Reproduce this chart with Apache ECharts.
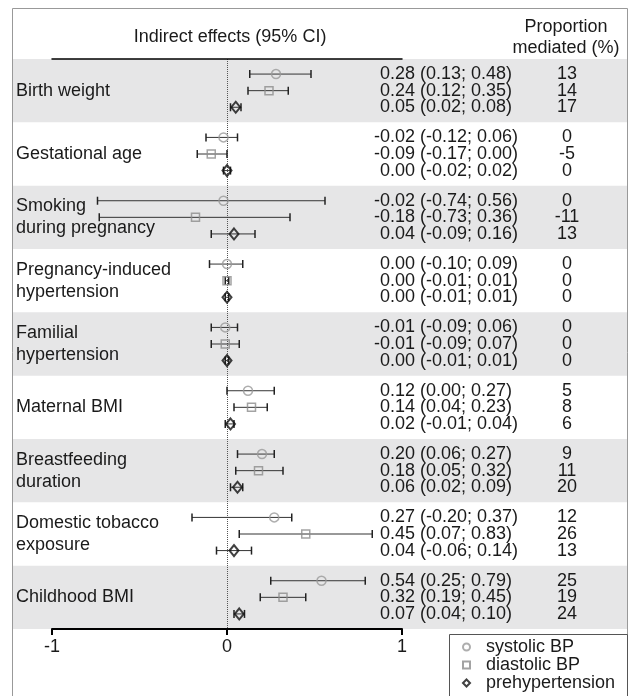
<!DOCTYPE html>
<html>
<head>
<meta charset="utf-8">
<script src="https://cdn.jsdelivr.net/npm/echarts@6/dist/echarts.min.js"></script>
<style>
  html, body { margin: 0; padding: 0; background: #fff; }
  #chart { width: 629px; height: 696px; }
</style>
</head>
<body>
<div id="chart"></div>
<script>
const categories = [
    "Birth weight",
    "Gestational age",
    "Smoking\nduring pregnancy",
    "Pregnancy-induced\nhypertension",
    "Familial\nhypertension",
    "Maternal BMI",
    "Breastfeeding\nduration",
    "Domestic tobacco\nexposure",
    "Childhood BMI",
];
const seriesNames = ["systolic BP", "diastolic BP", "prehypertension"];
const xTicks = [-1, 0, 1];

// systolic BP
const sbpEst = [0.28, -0.02, -0.02, 0.0, -0.01, 0.12, 0.2, 0.27, 0.54];
const sbpLow = [0.13, -0.12, -0.74, -0.1, -0.09, 0.0, 0.06, -0.2, 0.25];
const sbpHigh = [0.48, 0.06, 0.56, 0.09, 0.06, 0.27, 0.27, 0.37, 0.79];
const sbpProp = [13, 0, 0, 0, 0, 5, 9, 12, 25];

// diastolic BP
const dbpEst = [0.24, -0.09, -0.18, 0.0, -0.01, 0.14, 0.18, 0.45, 0.32];
const dbpLow = [0.12, -0.17, -0.73, -0.01, -0.09, 0.04, 0.05, 0.07, 0.19];
const dbpHigh = [0.35, 0.0, 0.36, 0.01, 0.07, 0.23, 0.32, 0.83, 0.45];
const dbpProp = [14, -5, -11, 0, 0, 8, 11, 26, 19];

// prehypertension
const phtEst = [0.05, 0.0, 0.04, 0.0, 0.0, 0.02, 0.06, 0.04, 0.07];
const phtLow = [0.02, -0.02, -0.09, -0.01, -0.01, -0.01, 0.02, -0.06, 0.04];
const phtHigh = [0.08, 0.02, 0.16, 0.01, 0.01, 0.04, 0.09, 0.14, 0.1];
const phtProp = [17, 0, 13, 0, 0, 6, 20, 13, 24];

const FONT = "'Liberation Sans', Arial, Helvetica, sans-serif";
const TEXT_COLOR = "#1a1a1a";
const BAND_COLOR = "#e6e6e7";
const subOffsets = [-0.262, 0, 0.262];

const groups = [
    { name: seriesNames[0], est: sbpEst, low: sbpLow, high: sbpHigh, prop: sbpProp },
    { name: seriesNames[1], est: dbpEst, low: dbpLow, high: dbpHigh, prop: dbpProp },
    { name: seriesNames[2], est: phtEst, low: phtLow, high: phtHigh, prop: phtProp },
];

const rowY = (i, j) => i + 0.5 + subOffsets[j];
const fmt = (v) => v.toFixed(2);

const chart = echarts.init(document.getElementById("chart"), null, { renderer: "canvas" });

const bandSeries = {
    type: "custom",
    z: 1,
    silent: true,
    encode: { x: 0, y: 1 },
    data: categories.map((c, i) => [0, i]).filter((d) => d[1] % 2 === 0),
    renderItem: (params, api) => {
        const i = api.value(1);
        const top = api.coord([0, i])[1];
        const bottom = api.coord([0, i + 1])[1];
        return {
            type: "rect",
            shape: { x: 13, y: top, width: 614, height: bottom - top },
            style: { fill: BAND_COLOR },
        };
    },
};

const errorBarSeries = groups.map((g, j) => ({
    type: "custom",
    name: g.name + " CI",
    z: 3,
    silent: true,
    encode: { x: [0, 1], y: 2 },
    data: g.est.map((v, i) => [g.low[i], g.high[i], rowY(i, j)]),
    renderItem: (params, api) => {
        const p1 = api.coord([api.value(0), api.value(2)]);
        const p2 = api.coord([api.value(1), api.value(2)]);
        const cap = 4;
        const stroke = { stroke: "#333", lineWidth: 1 };
        const capStroke = { stroke: "#222", lineWidth: 1.5 };
        return {
            type: "group",
            children: [
                { type: "line", shape: { x1: p1[0], y1: p1[1], x2: p2[0], y2: p2[1] }, style: stroke },
                { type: "line", shape: { x1: p1[0], y1: p1[1] - cap, x2: p1[0], y2: p1[1] + cap }, style: capStroke },
                { type: "line", shape: { x1: p2[0], y1: p2[1] - cap, x2: p2[0], y2: p2[1] + cap }, style: capStroke },
            ],
        };
    },
}));

const markerStyles = [
    { symbol: "circle", symbolSize: 9, itemStyle: { color: "transparent", borderColor: "#9a9a9a", borderWidth: 1.5 } },
    { symbol: "rect", symbolSize: 8, itemStyle: { color: "transparent", borderColor: "#8c8c8c", borderWidth: 1.5 } },
    { symbol: "diamond", symbolSize: [9, 11], itemStyle: { color: "transparent", borderColor: "#111", borderWidth: 2 } },
];

const pointSeries = groups.map((g, j) => ({
    type: "scatter",
    name: g.name,
    z: 4,
    silent: true,
    symbol: markerStyles[j].symbol,
    symbolSize: markerStyles[j].symbolSize,
    itemStyle: markerStyles[j].itemStyle,
    data: g.est.map((v, i) => [v, rowY(i, j)]),
    markLine:
        j === 0
            ? {
                  silent: true,
                  symbol: "none",
                  label: { show: false },
                  lineStyle: { type: "dotted", color: "#555", width: 1 },
                  data: [{ xAxis: 0 }],
                  z: 2,
              }
            : undefined,
}));

const textSeries = {
    type: "custom",
    z: 5,
    silent: true,
    encode: { x: 0, y: 1 },
    data: categories.map((c, i) => [0, i]),
    renderItem: (params, api) => {
        const i = api.value(1);
        const yc = api.coord([0, i + 0.5])[1];
        const children = [
            {
                type: "text",
                style: {
                    text: categories[i],
                    x: 16,
                    y: yc,
                    align: "left",
                    verticalAlign: "middle",
                    fontSize: 18,
                    fontFamily: FONT,
                    lineHeight: 22,
                    fill: TEXT_COLOR,
                },
            },
        ];
        groups.forEach((g, j) => {
            const y = api.coord([0, rowY(i, j)])[1];
            const base = { y, verticalAlign: "middle", fontSize: 18, fontFamily: FONT, fill: TEXT_COLOR };
            children.push({ type: "text", style: { ...base, text: fmt(g.est[i]), x: 415, align: "right" } });
            children.push({
                type: "text",
                style: { ...base, text: "(" + fmt(g.low[i]) + "; " + fmt(g.high[i]) + ")", x: 420, align: "left" },
            });
            children.push({ type: "text", style: { ...base, text: String(g.prop[i]), x: 567, align: "center" } });
        });
        return { type: "group", children };
    },
};

const option = {
    animation: false,
    backgroundColor: "#fff",
    textStyle: { fontFamily: FONT },
    grid: { left: 52, right: 227, top: 59, height: 570 },
    xAxis: [
        {
            type: "value",
            min: -1,
            max: 1,
            interval: 1,
            position: "bottom",
            z: 6,
            axisLine: { onZero: false, lineStyle: { color: "#000", width: 2 } },
            axisTick: { length: 6, lineStyle: { color: "#000", width: 2 } },
            axisLabel: {
                fontSize: 18,
                color: TEXT_COLOR,
                margin: 9,
                formatter: (v) => (xTicks.includes(v) ? String(v) : ""),
            },
            splitLine: { show: false },
        },
        {
            type: "value",
            min: -1,
            max: 1,
            position: "top",
            z: 6,
            axisLine: { onZero: false, lineStyle: { color: "#000", width: 1.5 } },
            axisTick: { show: false },
            axisLabel: { show: false },
            splitLine: { show: false },
        },
    ],
    yAxis: { type: "value", min: 0, max: 9, inverse: true, show: false },
    legend: {
        orient: "vertical",
        left: 462,
        top: 638,
        padding: 0,
        itemGap: 0,
        itemWidth: 7,
        itemHeight: 7,
        selectedMode: false,
        textStyle: { fontSize: 18, color: TEXT_COLOR, lineHeight: 16.5, padding: [0, 0, 0, 11] },
        data: seriesNames,
    },
    graphic: [
        {
            type: "rect",
            silent: true,
            z: 0,
            shape: { x: 12.5, y: 8.5, width: 615, height: 720 },
            style: { fill: "none", stroke: "#999", lineWidth: 1 },
        },
        {
            type: "rect",
            silent: true,
            z: 0,
            shape: { x: 449.5, y: 634.5, width: 178, height: 80 },
            style: { fill: "#fff", stroke: "#555", lineWidth: 1 },
        },
        {
            type: "text",
            silent: true,
            style: {
                text: "Indirect effects (95% CI)",
                x: 230,
                y: 37,
                align: "center",
                verticalAlign: "middle",
                fontSize: 18,
                fontFamily: FONT,
                fill: TEXT_COLOR,
            },
        },
        {
            type: "text",
            silent: true,
            style: {
                text: "Proportion\nmediated (%)",
                x: 566,
                y: 38,
                align: "center",
                verticalAlign: "middle",
                fontSize: 18,
                lineHeight: 21,
                fontFamily: FONT,
                fill: TEXT_COLOR,
            },
        },
    ],
    series: [bandSeries, ...errorBarSeries, ...pointSeries, textSeries],
};

chart.setOption(option);
</script>
</body>
</html>
